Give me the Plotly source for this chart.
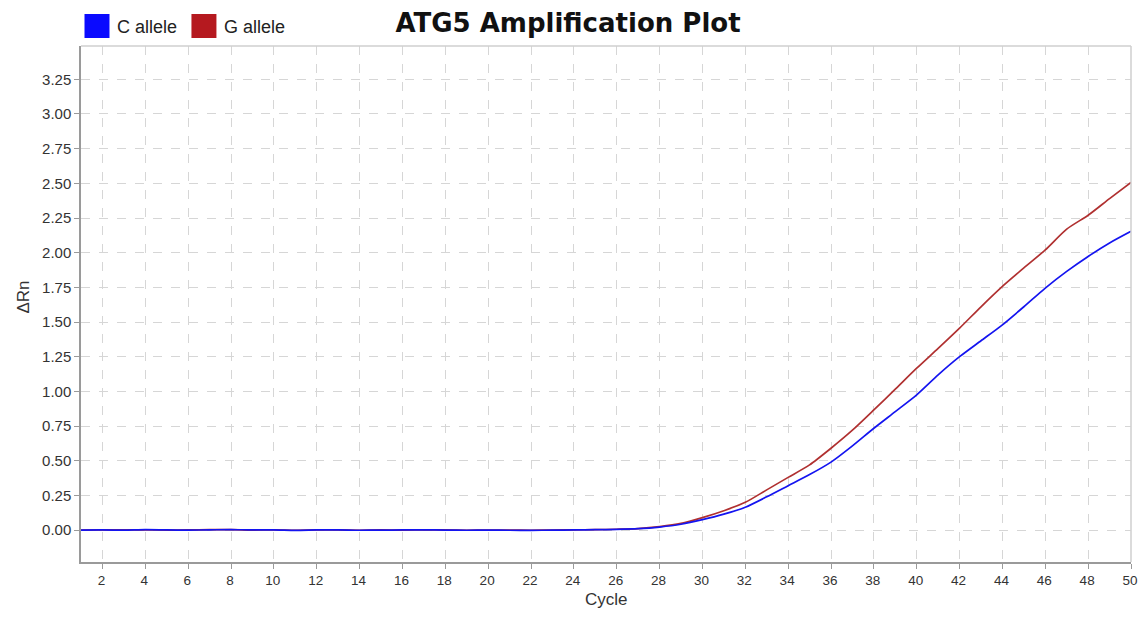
import plotly.graph_objects as go

cycles = list(range(1, 51))
c_allele = [0.000, 0.001, 0.000, 0.003, 0.001, 0.000, 0.002, 0.004, 0.001, 0.002,
            -0.002, 0.001, 0.002, -0.001, 0.000, 0.001, 0.002, 0.000, -0.001, 0.000,
            -0.001, -0.002, 0.000, 0.001, 0.003, 0.005, 0.010, 0.022, 0.042, 0.075,
            0.115, 0.165, 0.240, 0.320, 0.400, 0.490, 0.607, 0.734, 0.854, 0.975,
            1.119, 1.250, 1.365, 1.480, 1.610, 1.745, 1.865, 1.973, 2.070, 2.154]
g_allele = [0.000, 0.001, 0.001, 0.002, 0.000, 0.001, 0.003, 0.003, 0.000, 0.002,
            -0.001, 0.001, 0.001, -0.001, 0.001, 0.000, 0.002, 0.001, -0.001, 0.000,
            0.000, -0.001, 0.000, 0.002, 0.003, 0.006, 0.011, 0.025, 0.048, 0.090,
            0.140, 0.200, 0.290, 0.380, 0.470, 0.590, 0.720, 0.866, 1.016, 1.167,
            1.310, 1.456, 1.610, 1.757, 1.890, 2.020, 2.170, 2.270, 2.390, 2.507]
series_names = ["C allele", "G allele"]
series_colors = ["#1414f0", "#b03030"]
legend_colors = ["#0a0aff", "#b5191f"]
x_ticks = list(range(2, 51, 2))
y_ticks = [i * 0.25 for i in range(0, 14)]

fig = go.Figure()
fig.add_trace(go.Scatter(x=cycles, y=g_allele, mode="lines", name=series_names[1],
                         line=dict(color=series_colors[1], width=1.7, shape="spline", smoothing=0.7),
                         showlegend=False))
fig.add_trace(go.Scatter(x=cycles, y=c_allele, mode="lines", name=series_names[0],
                         line=dict(color=series_colors[0], width=1.7, shape="spline", smoothing=0.7),
                         showlegend=False))

FONT = "Liberation Sans, Arial, sans-serif"
fig.update_xaxes(range=[1, 50], tickvals=x_ticks, ticktext=[str(v) for v in x_ticks],
                 showgrid=True, gridcolor="#d6d6d6", griddash="dash", gridwidth=1,
                 zeroline=False, showline=True, linecolor="#9a9a9a", linewidth=1.5,
                 ticks="outside", ticklen=5, tickcolor="#9a9a9a", ticklabelshift=-1,
                 automargin=False, ticklabeloverflow="allow",
                 tickfont=dict(family=FONT, size=13.5, color="#333333"))
fig.update_yaxes(range=[-0.23, 3.49], tickvals=y_ticks, ticktext=[f"{v:.2f}" for v in y_ticks],
                 showgrid=True, gridcolor="#d6d6d6", griddash="dash", gridwidth=1,
                 zeroline=False, showline=True, linecolor="#9a9a9a", linewidth=1.5,
                 ticks="outside", ticklen=5, tickcolor="#9a9a9a", automargin=False,
                 tickfont=dict(family=FONT, size=15, color="#333333"))

# figure drawn at (8, 8) in a 1146x617 window; keep it inside the viewport
OFF = 8
W, H = 1146 - 2 * OFF, 617 - 2 * OFF
PL, PR, PT, PB = 80.5, 1131.0, 46.0, 562.0   # plot area in page pixels
ml, mr, mt, mb = PL - OFF, (OFF + W) - PR, PT - OFF, (OFF + H) - PB
pw, ph = PR - PL, PB - PT

def px(x):
    return (x - PL) / pw

def py(y):
    return (PB - y) / ph

# top and right frame lines
fig.add_shape(type="line", xref="paper", yref="paper", x0=0, x1=1, y0=1, y1=1,
              line=dict(color="#cfcfcf", width=1.5))
fig.add_shape(type="line", xref="paper", yref="paper", x0=1, x1=1, y0=0, y1=1,
              line=dict(color="#cfcfcf", width=1.5))

# custom legend (squares + labels)
legend_boxes = [(84, 109), (191, 216)]
legend_text_x = [115, 222]
for i in range(2):
    x0, x1 = legend_boxes[i]
    fig.add_shape(type="rect", xref="paper", yref="paper", x0=px(x0), x1=px(x1),
                  y0=py(38), y1=py(14), fillcolor=legend_colors[i], line=dict(width=0))
    fig.add_annotation(xref="paper", yref="paper", x=px(legend_text_x[i]), y=py(27),
                       text=series_names[i], showarrow=False, xanchor="left", yanchor="middle",
                       font=dict(family=FONT, size=18, color="#222222"))

# axis titles
fig.add_annotation(xref="paper", yref="paper", x=px(606), y=py(599), text="Cycle",
                   showarrow=False, xanchor="center", yanchor="middle",
                   font=dict(family=FONT, size=17, color="#333333"))
fig.add_annotation(xref="paper", yref="paper", x=px(22), y=py(297), text="ΔRn",
                   showarrow=False, xanchor="center", yanchor="middle", textangle=-90,
                   font=dict(family=FONT, size=17, color="#333333"))

fig.update_layout(
    width=W, height=H,
    margin=dict(l=ml, r=mr, t=mt, b=mb, pad=0, autoexpand=False),
    paper_bgcolor="white", plot_bgcolor="white",
    title=dict(text="<b>ATG5 Amplification Plot</b>", x=(568 - OFF) / W, xanchor="center",
               y=1 - (23 - OFF) / H, yanchor="middle",
               font=dict(family="DejaVu Sans, sans-serif", size=26, color="#111111")),
    showlegend=False,
)

fig.write_html("out.html")
